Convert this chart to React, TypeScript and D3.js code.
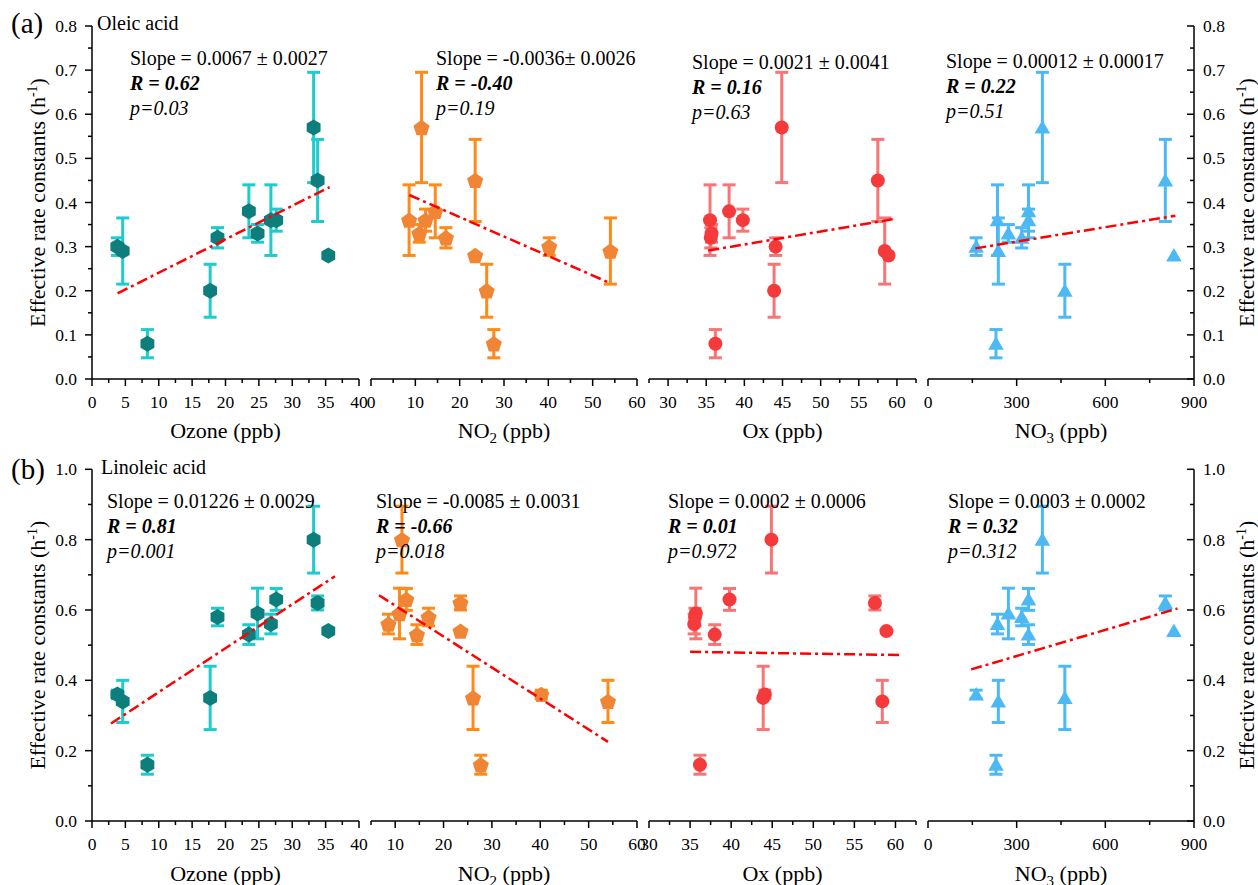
import React from 'react';
import * as d3 from 'd3';

// ---- data (12 samples) ----
const ozone = [3.8, 4.6, 8.3, 17.7, 18.8, 23.5, 24.8, 26.8, 27.6, 33.2, 33.8, 35.4];
const no2 = [40.2, 54.0, 27.7, 26.1, 16.9, 14.5, 10.9, 8.6, 12.3, 11.4, 23.5, 23.5];
const ox = [44.1, 58.4, 36.2, 43.9, 35.6, 38.0, 35.7, 35.5, 39.8, 44.9, 57.5, 58.9];
const no3 = [163, 238, 230, 463, 317, 340, 272, 235, 340, 387, 803, 832];
const kOleic = [0.30, 0.29, 0.08, 0.20, 0.32, 0.38, 0.33, 0.36, 0.36, 0.57, 0.45, 0.28];
const errOleic = [0.02, 0.075, 0.032, 0.06, 0.023, 0.06, 0.02, 0.08, 0.025, 0.125, 0.093, 0];
const kLinoleic = [0.36, 0.34, 0.16, 0.35, 0.58, 0.53, 0.59, 0.56, 0.63, 0.80, 0.62, 0.54];
const errLinoleic = [0.012, 0.06, 0.027, 0.09, 0.025, 0.028, 0.072, 0.028, 0.031, 0.095, 0.02, 0];

// fitted line end points [x0, y0, x1, y1]
const fitOleic = [
  [3.83, 0.194, 35.6, 0.435],
  [8.65, 0.417, 54, 0.217],
  [35.27, 0.291, 59.8, 0.363],
  [160, 0.296, 837, 0.37],
];
const fitLinoleic = [
  [2.84, 0.277, 36.4, 0.696],
  [6.65, 0.642, 54, 0.225],
  [35, 0.481, 60.5, 0.472],
  [146, 0.431, 844, 0.604],
];

const slopeOleic = ['Slope = 0.0067 \u00b1 0.0027', 'Slope = -0.0036\u00b1 0.0026', 'Slope = 0.0021 \u00b1 0.0041', 'Slope = 0.00012 \u00b1 0.00017'];
const rOleic = ['R = 0.62', 'R = -0.40', 'R = 0.16', 'R = 0.22'];
const pOleic = ['p=0.03', 'p=0.19', 'p=0.63', 'p=0.51'];
const slopeLinoleic = ['Slope = 0.01226 \u00b1 0.0029', 'Slope = -0.0085 \u00b1 0.0031', 'Slope = 0.0002 \u00b1 0.0006', 'Slope = 0.0003 \u00b1 0.0002'];
const rLinoleic = ['R = 0.81', 'R = -0.66', 'R = 0.01', 'R = 0.32'];
const pLinoleic = ['p=0.001', 'p=0.018', 'p=0.972', 'p=0.312'];

const xDomainsTop = [[0, 40], [0, 60], [27.5, 62.5], [0, 900]];
const xDomainsBottom = [[0, 40], [5, 60], [30, 62.5], [0, 900]];
const xMajorTop = [[0, 5, 10, 15, 20, 25, 30, 35, 40], [0, 10, 20, 30, 40, 50, 60], [30, 35, 40, 45, 50, 55, 60], [0, 300, 600, 900]];
const xMajorBottom = [[0, 5, 10, 15, 20, 25, 30, 35, 40], [10, 20, 30, 40, 50, 60], [30, 35, 40, 45, 50, 55, 60], [0, 300, 600, 900]];
const xMinorStep = [2.5, 5, 2.5, 150];
const yTicksTop = [0, 0.1, 0.2, 0.3, 0.4, 0.5, 0.6, 0.7, 0.8];
const yTicksBottom = [0, 0.2, 0.4, 0.6, 0.8, 1.0];
const xTitles = ['Ozone', 'NO', 'Ox', 'NO'];
const xSubs = ['', '2', '', '3'];

const FONT = '"Liberation Serif", "Times New Roman", serif';
const panelX = [[92, 359], [371, 637], [649, 916], [928, 1194]];
const markerFill = ['#0E7E7C', '#F08535', '#F53A3C', '#4CB9F5'];
const errColor = ['#1ECBCF', '#FF8A1A', '#F87575', '#4CB9F5'];
const xSeries = [ozone, no2, ox, no3];

function polyPath(n: number, r: number, rot: number, dy = 0) {
  const pts = d3.range(n).map((i) => {
    const a = rot + (i * 2 * Math.PI) / n;
    return [r * Math.cos(a), r * Math.sin(a) + dy];
  });
  return 'M' + pts.map((p) => p[0].toFixed(2) + ',' + p[1].toFixed(2)).join('L') + 'Z';
}
const shapes = [
  polyPath(6, 8, -Math.PI / 2),
  polyPath(5, 8.5, -Math.PI / 2, 0.8),
  null,
  polyPath(3, 9, -Math.PI / 2, 1.5),
];

function Row(props: any) {
  const { yRange, yMax, yTicks, yMinor, xDomains, xMajor, k, err, fits, slopes, rs, ps, textBase, label, acid, labelBase, titleBase, tickBase, textX } = props;
  const y = d3.scaleLinear().domain([0, yMax]).range(yRange);
  const els: any[] = [];
  const minorY = d3.range(0, yMax + 1e-9, yMinor);
  // left axis
  const lx = panelX[0][0];
  els.push(<line key="ly" x1={lx} x2={lx} y1={y(0)} y2={y(yMax)} stroke="#000" strokeWidth={1.5} />);
  const rx = panelX[3][1];
  els.push(<line key="ry" x1={rx} x2={rx} y1={y(0)} y2={y(yMax)} stroke="#000" strokeWidth={1.5} />);
  minorY.forEach((v, i) => {
    const isMajor = yTicks.some((t: number) => Math.abs(t - v) < 1e-9);
    const len = isMajor ? 7 : 4;
    els.push(<line key={'lyt' + i} x1={lx - len} x2={lx} y1={y(v)} y2={y(v)} stroke="#000" strokeWidth={1.5} />);
    els.push(<line key={'ryt' + i} x1={rx - len} x2={rx} y1={y(v)} y2={y(v)} stroke="#000" strokeWidth={1.5} />);
  });
  yTicks.forEach((v: number, i: number) => {
    els.push(<text key={'lyl' + i} x={lx - 15} y={y(v) + 6} textAnchor="end" fontSize={17.5} fontFamily={FONT}>{v.toFixed(1)}</text>);
    els.push(<text key={'ryl' + i} x={rx + 9} y={y(v) + 6} textAnchor="start" fontSize={17.5} fontFamily={FONT}>{v.toFixed(1)}</text>);
  });
  // y titles
  els.push(
    <text key="lyt" transform={`translate(45,${(yRange[0] + yRange[1]) / 2}) rotate(-90)`} textAnchor="middle" fontSize={22} fontFamily={FONT}>
      Effective rate constants (h<tspan dy={-8} fontSize={14}>-1</tspan><tspan dy={8}>)</tspan>
    </text>
  );
  els.push(
    <text key="ryt2" transform={`translate(1254,${(yRange[0] + yRange[1]) / 2}) rotate(-90)`} textAnchor="middle" fontSize={22} fontFamily={FONT}>
      Effective rate constants (h<tspan dy={-8} fontSize={14}>-1</tspan><tspan dy={8}>)</tspan>
    </text>
  );

  for (let p = 0; p < 4; p++) {
    const x = d3.scaleLinear().domain(xDomains[p]).range(panelX[p]);
    const [d0, d1] = xDomains[p];
    els.push(<line key={'xa' + p} x1={x(d0)} x2={x(d1)} y1={y(0)} y2={y(0)} stroke="#000" strokeWidth={1.5} />);
    const minors = d3.range(d0, d1 + 1e-9, xMinorStep[p]);
    minors.forEach((v, i) => {
      const isMajor = xMajor[p].some((t: number) => Math.abs(t - v) < 1e-9);
      els.push(<line key={'xt' + p + '_' + i} x1={x(v)} x2={x(v)} y1={y(0)} y2={y(0) + (isMajor ? 7 : 4)} stroke="#000" strokeWidth={1.5} />);
    });
    xMajor[p].forEach((v: number, i: number) => {
      els.push(<text key={'xl' + p + '_' + i} x={x(v)} y={tickBase} textAnchor="middle" fontSize={17.5} fontFamily={FONT}>{String(v)}</text>);
    });
    const cx = (panelX[p][0] + panelX[p][1]) / 2;
    els.push(
      <text key={'xtt' + p} x={cx} y={titleBase} textAnchor="middle" fontSize={22} fontFamily={FONT}>
        {xTitles[p]}
        {xSubs[p] ? <tspan dy={5} fontSize={15}>{xSubs[p]}</tspan> : null}
        {xSubs[p] ? <tspan dy={-5}> (ppb)</tspan> : ' (ppb)'}
      </text>
    );
    // error bars
    const xs = xSeries[p];
    xs.forEach((xv: number, i: number) => {
      const e = err[i];
      if (e > 0) {
        const px = x(xv);
        const y0 = y(k[i] - e);
        const y1 = y(k[i] + e);
        els.push(
          <g key={'eb' + p + '_' + i} stroke={errColor[p]} strokeWidth={3}>
            <line x1={px} x2={px} y1={y0} y2={y1} />
            <line x1={px - 6.5} x2={px + 6.5} y1={y0} y2={y0} />
            <line x1={px - 6.5} x2={px + 6.5} y1={y1} y2={y1} />
          </g>
        );
      }
    });
    xs.forEach((xv: number, i: number) => {
      const px = x(xv);
      const py = y(k[i]);
      if (shapes[p]) {
        els.push(<path key={'m' + p + '_' + i} d={shapes[p] as string} transform={`translate(${px},${py})`} fill={markerFill[p]} />);
      } else {
        els.push(<circle key={'m' + p + '_' + i} cx={px} cy={py} r={7} fill={markerFill[p]} />);
      }
    });
    const f = fits[p];
    els.push(<line key={'fit' + p} x1={x(f[0])} y1={y(f[1])} x2={x(f[2])} y2={y(f[3])} stroke="#FF0000" strokeWidth={2.5} strokeDasharray="11,4,3,4" />);
    const tx = textX[p];
    const tb = textBase[p];
    els.push(<text key={'s' + p} x={tx} y={tb} fontSize={20} fontFamily={FONT}>{slopes[p]}</text>);
    els.push(<text key={'r' + p} x={tx} y={tb + 25} fontSize={20} fontFamily={FONT} fontWeight="bold" fontStyle="italic">{rs[p]}</text>);
    els.push(<text key={'p' + p} x={tx} y={tb + 50} fontSize={20} fontFamily={FONT} fontStyle="italic">{ps[p]}</text>);
  }
  els.push(<text key="lab" x={11} y={labelBase} fontSize={29} fontFamily={FONT}>{label}</text>);
  els.push(<text key="acid" x={props.acidX} y={props.acidBase} fontSize={20} fontFamily={FONT}>{acid}</text>);
  return <g>{els}</g>;
}

export default function App() {
  return (
    <div style={{ position: 'absolute', left: 0, top: 0, width: 1258, height: 885, background: '#fff' }}>
      <svg width={1258} height={885} style={{ display: 'block' }}>
        <rect width={1258} height={885} fill="#fff" />
        <Row
          yRange={[379, 26]} yMax={0.8} yTicks={yTicksTop} yMinor={0.05}
          xDomains={xDomainsTop} xMajor={xMajorTop}
          k={kOleic} err={errOleic} fits={fitOleic}
          slopes={slopeOleic} rs={rOleic} ps={pOleic}
          textX={[130, 436, 692, 946]} textBase={[65, 65, 69, 68]}
          label="(a)" labelBase={33} acid="Oleic acid" acidX={97} acidBase={30}
          titleBase={438} tickBase={408}
        />
        <Row
          yRange={[821, 469.3]} yMax={1.0} yTicks={yTicksBottom} yMinor={0.1}
          xDomains={xDomainsBottom} xMajor={xMajorBottom}
          k={kLinoleic} err={errLinoleic} fits={fitLinoleic}
          slopes={slopeLinoleic} rs={rLinoleic} ps={pLinoleic}
          textX={[107, 376, 668, 948]} textBase={[508, 508, 508, 508]}
          label="(b)" labelBase={479} acid="Linoleic acid" acidX={101} acidBase={474}
          titleBase={881} tickBase={850}
        />
      </svg>
    </div>
  );
}
